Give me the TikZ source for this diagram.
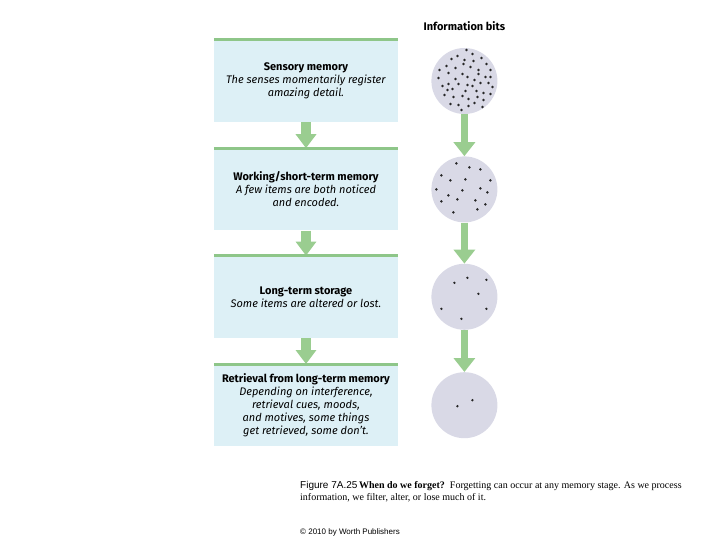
\documentclass[tikz,border=0pt]{standalone}
\usepackage{fontspec}
\setmainfont{Fira Sans}
\newfontfamily\capserif{Liberation Serif}
\newfontfamily\capsans{Liberation Sans}
\usepackage{xcolor}
\usepackage{tikz}
\usetikzlibrary{positioning,arrows.meta}
\definecolor{stagefill}{HTML}{DDF0F6}
\definecolor{stageline}{HTML}{8EC689}
\definecolor{flowgreen}{HTML}{9ACD90}
\definecolor{bitsfill}{HTML}{D9D9E6}

\begin{document}
\begin{tikzpicture}[
    x=1pt, y=-1pt,
    every node/.style={font=\fontsize{11}{13}\selectfont},
    stage/.style={rectangle, fill=stagefill, minimum width=184pt, minimum height=82pt, align=center, inner sep=0pt},
    topline/.style={line width=3pt, stageline},
    bits/.style={circle, fill=bitsfill, minimum size=66pt, inner sep=0pt},
    flow/.style={-{Triangle[length=14pt,width=20pt]}, line width=10pt, flowgreen},
    thinflow/.style={-{Triangle[length=14pt,width=21pt]}, line width=7pt, flowgreen},
    bit/.style={fill=black!85},
]
\useasboundingbox (0,0) rectangle (720,540);
\node[stage] (sensory) at (306,81) {\textbf{Sensory memory}\\\textit{The senses momentarily register}\\\textit{amazing detail.}};
\node[stage, below=26pt of sensory] (working) {\textbf{Working/short-term memory}\\\textit{A few items are both noticed}\\\textit{and encoded.}};
\node[stage, below=25pt of working] (longterm) {\textbf{Long-term storage}\\\textit{Some items are altered or lost.}};
\node[stage, below=26pt of longterm] (retrieval) {\textbf{Retrieval from long-term memory}\\\textit{Depending on interference,}\\\textit{retrieval cues, moods,}\\\textit{and motives, some things}\\\textit{get retrieved, some don't.}};
\node[bits, right=33pt of sensory] (bitsa) {};
\node[bits, right=33pt of working] (bitsb) {};
\node[bits, right=33pt of longterm] (bitsc) {};
\node[bits, right=33pt of retrieval] (bitsd) {};
\node[above=14pt of bitsa] (bitshead) {\textbf{Information bits}};
\draw[flow] (sensory) -- (working.north);
\draw[flow] (working) -- (longterm.north);
\draw[flow] (longterm) -- (retrieval.north);
\foreach \a/\b in {sensory/sensory, working/working, longterm/longterm, retrieval/retrieval}
    \draw[topline] (\a.north west) -- (\b.north east);
\draw[thinflow] (bitsa.south) -- (bitsb.north);
\draw[thinflow] (bitsb.south) -- (bitsc.north);
\draw[thinflow] (bitsc.south) -- (bitsd.north);
\foreach \dx/\dy in {2/-31, 8/-27, -7/-25, -13/-22, 0/-21, 9/-20, 17/-23, 22/-17, -18/-15, -9/-13, -1/-17, 6/-14, 14/-11, 26/-11, -25/-11, -16/-8, -2/-7, 3/-4, 14/-7, 21/-4, -26/-3, -9/-2, 10/-1, 26/-4, -22/5, -16/3, -6/3, 3/4, 8/5, 16/2, 24/2, 28/6, -17/9, -12/8, 1/10, 12/10, 19/12, -20/14, -11/16, -2/15, 4/18, 13/16, 19/19, 26/13, -14/23, -6/24, 4/25, 10/22, 18/26, -3/29}
    \fill[bit] (bitsa) ++(\dx,\dy) circle (1.4pt);
\foreach \dx/\dy in {-8/-26, 5/-22, 16/-20, -23/-14, -14/-9, 1/-10, 26/-9, -28/0, -2/1, 16/-1, 23/3, -16/6, -23/12, -7/10, 11/11, 21/15, 13/20, -11/23}
    \fill[bit] (bitsb) ++(\dx,\dy) circle (1.4pt);
\foreach \dx/\dy in {-10/-14, 3/-19, 22/-17, 14/-3, -23/12, -3/22, 22/12}
    \fill[bit] (bitsc) ++(\dx,\dy) circle (1.3pt);
\foreach \dx/\dy in {-7/1, 8/-5}
    \fill[bit] (bitsd) ++(\dx,\dy) circle (1.3pt);
\node[anchor=north west, align=left, inner sep=0pt, font=\capserif\fontsize{10}{12}\selectfont] (caption) at (300,481) {{\capsans Figure 7A.25}\,\textbf{When do we forget?}\ \ Forgetting can occur at any memory stage. As we process\\information, we filter, alter, or lose much of it.};
\node[anchor=west, inner sep=0pt, font=\capsans\fontsize{8}{9}\selectfont] (copyright) at (300,532) {\textcopyright{} 2010 by Worth Publishers};
\end{tikzpicture}
\end{document}
